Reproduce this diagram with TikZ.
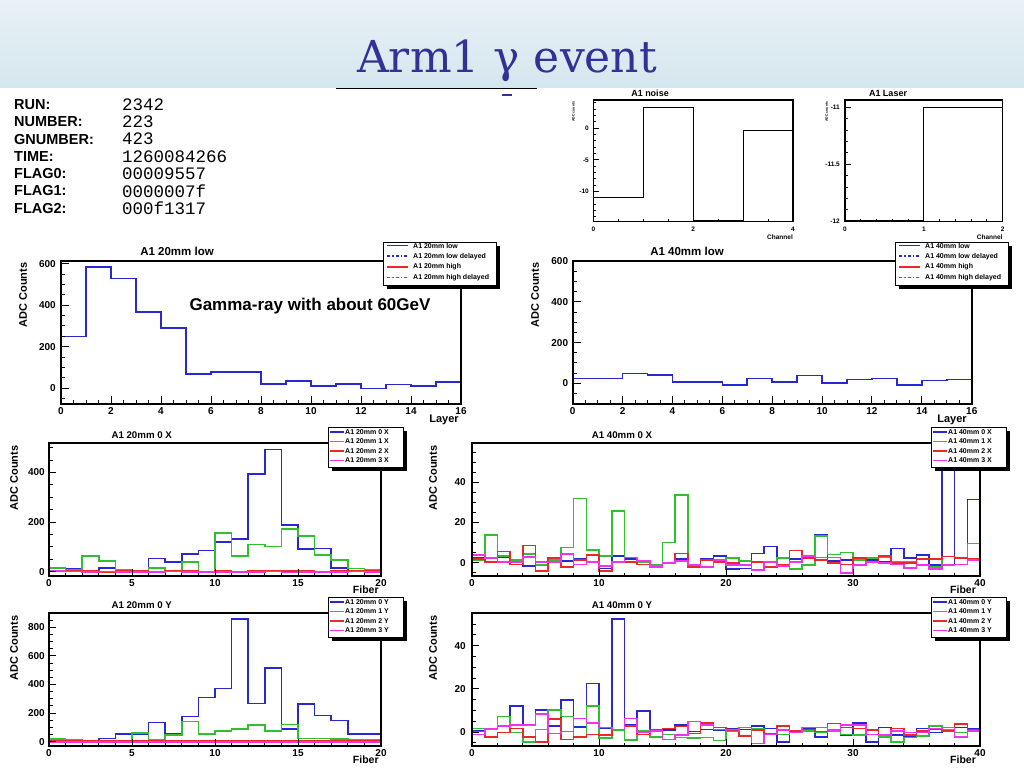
\documentclass[tikz,border=0pt]{standalone}
\usepackage{fontspec}
\setmainfont{Liberation Sans}
\newfontfamily\monofont{Liberation Mono}
\newfontfamily\titlefont{DejaVu Serif}
\definecolor{hb}{RGB}{40,40,210}
\definecolor{hg}{RGB}{50,190,50}
\definecolor{hr}{RGB}{235,40,40}
\definecolor{hm}{RGB}{240,50,240}
\definecolor{ttl}{RGB}{50,50,150}
\definecolor{bandtop}{RGB}{232,241,246}
\definecolor{bandbot}{RGB}{214,230,238}
\tikzset{
  frm/.style={draw=black,line width=1.8pt},
  tk/.style={line width=1pt},
  hst/.style={line width=1.6pt,line join=miter},
  tl/.style={font=\bfseries\fontsize{10}{12}\selectfont,inner sep=0pt},
  axt/.style={font=\bfseries\fontsize{11}{13}\selectfont,inner sep=0pt},
  ptitle/.style={font=\bfseries\fontsize{11.5}{13}\selectfont,inner sep=0pt},
  stitle/.style={font=\bfseries\fontsize{9.7}{11}\selectfont,inner sep=0pt},
  legtxt/.style={font=\bfseries\fontsize{7}{8}\selectfont,inner sep=0pt,anchor=west},
  legbox/.style={draw=black,line width=0.8pt,fill=white},
  legline/.style={line width=1.5pt},
  infolab/.style={font=\bfseries\fontsize{14.5}{16}\selectfont,inner sep=0pt,anchor=west},
  infoval/.style={font=\monofont\fontsize{17.5}{19}\selectfont,inner sep=0pt,anchor=west},
}
\def\hfirst#1,#2\relax{#1}
% histogram: style, x0, bin width, y of zero, px per unit, values
\newcommand\hist[6]{%
  \edef\hv{\hfirst#6,\relax}%
  \draw[hst,#1] (#2,{#4-(\hv)*#5}) \foreach \v [count=\i from 0] in {#6} { -- ({#2+\i*#3},{#4-(\v)*#5}) -- ({#2+(\i+1)*#3},{#4-(\v)*#5}) };%
}
% y ticks: xleft, y0, scale, list, length
\newcommand\ytk[5]{\foreach \t in {#4}{\draw[tk] (#1,{#2-(\t)*#3}) -- ++(#5,0);}}
% x ticks: ybottom, x0, scale, list, length
\newcommand\xtk[5]{\foreach \t in {#4}{\draw[tk] ({#2+(\t)*#3},#1) -- ++(0,-#5);}}
% y labels: xright, y0, scale, list, prefix
\newcommand\ylabs[5]{\foreach \t [count=\k] in {#4}{\node[tl,anchor=east] (#5y\k) at (#1,{#2-(\t)*#3}) {\t};}}
% x labels: ycenter, x0, scale, list, prefix
\newcommand\xlabs[5]{\foreach \t [count=\k] in {#4}{\node[tl] (#5x\k) at ({#2+(\t)*#3},#1) {\t};}}
% legend for low/high
\newcommand\leglow[4]{%
  \fill[black] ({#1+4},{#2+4}) rectangle ({#1+117},{#2+47});
  \draw[legbox] (#1,#2) rectangle ({#1+113},{#2+43});
  \draw[hb,legline] ({#1+4},{#2+3.5}) -- ++(21,0);
  \node[legtxt] (#4a) at ({#1+30},{#2+3.5}) {A1 #3 low};
  \draw[hb,legline,dash dot] ({#1+4},{#2+14.2}) -- ++(21,0);
  \node[legtxt] (#4b) at ({#1+30},{#2+14.2}) {A1 #3 low delayed};
  \draw[hr,legline] ({#1+4},{#2+24.8}) -- ++(21,0);
  \node[legtxt] (#4c) at ({#1+30},{#2+24.8}) {A1 #3 high};
  \draw[hr,legline,dash dot] ({#1+4},{#2+35.4}) -- ++(21,0);
  \node[legtxt] (#4d) at ({#1+30},{#2+35.4}) {A1 #3 high delayed};
}
% legend for four layers
\newcommand\legfour[5]{%
  \fill[black] ({#1+4},{#2+4}) rectangle ({#1+79},{#2+44});
  \draw[legbox] (#1,#2) rectangle ({#1+75},{#2+40});
  \foreach \hcol/\hnum [count=\k] in {hb/0,hg/1,hr/2,hm/3}{%
    \draw[\hcol,legline] ({#1+2},{#2+5+(\k-1)*9.5}) -- ++(14,0);
    \node[legtxt] (#5\k) at ({#1+17},{#2+5+(\k-1)*9.5}) {#3 \hnum\ #4};}%
}
\begin{document}
\begin{tikzpicture}[x=1pt,y=-1pt]
\useasboundingbox (0,0) rectangle (1024,768);
\fill[white] (0,0) rectangle (1024,768);
\shade[top color=bandtop,bottom color=bandbot] (0,0) rectangle (1024,87);
\node[font=\titlefont\fontsize{44}{50}\selectfont,text=ttl,anchor=base west,inner sep=0pt] (title) at (357,72) {Arm1 γ event};
\draw[line width=1pt] (336,88) -- (537,88);
\draw[ttl,line width=1.5pt] (502,95) -- (512,95);

% info block
\node[infolab] (l1) at (14,104.5) {RUN:};      \node[infoval] (v1) at (122,104.5) {2342};
\node[infolab] (l2) at (14,121.8) {NUMBER:};   \node[infoval] (v2) at (122,121.8) {223};
\node[infolab] (l3) at (14,139.1) {GNUMBER:};  \node[infoval] (v3) at (122,139.1) {423};
\node[infolab] (l4) at (14,156.4) {TIME:};     \node[infoval] (v4) at (122,156.4) {1260084266};
\node[infolab] (l5) at (14,173.7) {FLAG0:};    \node[infoval] (v5) at (122,173.7) {00009557};
\node[infolab] (l6) at (14,191.0) {FLAG1:};    \node[infoval] (v6) at (122,191.0) {0000007f};
\node[infolab] (l7) at (14,208.3) {FLAG2:};    \node[infoval] (v7) at (122,208.3) {000f1317};

% ---------- A1 noise ----------
\begin{scope}[tl/.style={font=\bfseries\fontsize{6.5}{7}\selectfont,inner sep=0pt}]
\hist{black,line width=1.2pt}{593.3}{49.93}{128.3}{6.33}{-10.9,3.26,-14.6,-0.4}
\ytk{593.3}{128.3}{6.33}{-14,-13,...,4}{3}
\ytk{593.3}{128.3}{6.33}{-10,-5,0}{6}
\xtk{221.7}{593.3}{49.93}{0,0.5,...,4}{3}
\xtk{221.7}{593.3}{49.93}{0,2,4}{6}
\draw[frm,line width=1.5pt] (593.3,100) rectangle (793,221.7);
\ylabs{589}{128.3}{6.33}{-10,-5,0}{nz}
\xlabs{229}{593.3}{49.93}{0,2,4}{nz}
\node[font=\bfseries\fontsize{9}{10}\selectfont,inner sep=0pt] (nzt) at (650,93) {A1 noise};
\node[font=\bfseries\fontsize{3.5}{4}\selectfont,inner sep=0pt,rotate=90] (nzya) at (573.3,111.7) {ADC counts};
\node[tl,anchor=east] (nzc) at (793,236.7) {Channel};
\end{scope}

% ---------- A1 Laser ----------
\begin{scope}[tl/.style={font=\bfseries\fontsize{6.5}{7}\selectfont,inner sep=0pt}]
\hist{black,line width=1.2pt}{845}{78.85}{-1146.7}{114}{-11.99,-11}
\ytk{845}{-1146.7}{114}{-12,-11.9,...,-10.95}{3}
\ytk{845}{-1146.7}{114}{-12,-11.5,-11}{6}
\xtk{221.7}{845}{78.85}{0,0.2,...,2}{3}
\xtk{221.7}{845}{78.85}{0,1,2}{6}
\draw[frm,line width=1.5pt] (845,100) rectangle (1002.7,221.7);
\ylabs{840}{-1146.7}{114}{-12,-11.5,-11}{lz}
\xlabs{229}{845}{78.85}{0,1,2}{lz}
\node[font=\bfseries\fontsize{9}{10}\selectfont,inner sep=0pt] (lzt) at (888,93) {A1 Laser};
\node[font=\bfseries\fontsize{3.5}{4}\selectfont,inner sep=0pt,rotate=90] (lzya) at (826.7,111.7) {ADC counts};
\node[tl,anchor=east] (lzc) at (1002.7,236.7) {Channel};
\end{scope}

% ---------- A1 20mm low ----------
\hist{hb}{61}{25}{388}{0.2067}{250,585,529,368,290,69,76,76,19,35,10,19,-3,16,10,29}
\ytk{61}{388}{0.2067}{-50,0,...,600}{4}
\ytk{61}{388}{0.2067}{0,200,400,600}{8}
\xtk{403.7}{61}{25}{0,0.5,...,16}{4}
\xtk{403.7}{61}{25}{0,2,...,16}{8}
\draw[frm] (61,260.7) rectangle (461,403.7);
\ylabs{56}{388}{0.2067}{0,200,400,600}{a}
\xlabs{411.3}{61}{25}{0,2,...,16}{a}
\node[ptitle] (at) at (177,251) {A1 20mm low};
\node[axt,rotate=90] (aya) at (23,295) {ADC Counts};
\node[axt] (axa) at (444,420) {Layer};
\leglow{383}{242}{20mm}{al}
\node[font=\bfseries\fontsize{17}{20}\selectfont,inner sep=0pt] (gamma) at (310,306.3) {Gamma-ray with about 60GeV};

% ---------- A1 40mm low ----------
\hist{hb}{572.7}{24.94}{383.3}{0.2035}{23,23,49,42,6,6,-8,23,6,39,1,18,23,-8,13,18}
\ytk{572.7}{383.3}{0.2035}{-100,-50,...,600}{4}
\ytk{572.7}{383.3}{0.2035}{0,200,400,600}{8}
\xtk{403.7}{572.7}{24.94}{0,0.5,...,16}{4}
\xtk{403.7}{572.7}{24.94}{0,2,...,16}{8}
\draw[frm] (572.7,260.7) rectangle (971.7,403.7);
\ylabs{568.3}{383.3}{0.2035}{0,200,400,600}{c}
\xlabs{411.3}{572.7}{24.94}{0,2,...,16}{c}
\node[ptitle] (ct) at (687,251) {A1 40mm low};
\node[axt,rotate=90] (cya) at (535,295) {ADC Counts};
\node[axt] (cxa) at (952,420) {Layer};
\leglow{895}{242}{40mm}{cl}

% ---------- A1 20mm 0 X ----------
\begin{scope}
\clip (49,443.3) rectangle (381,576);
\hist{hb}{49}{16.6}{571.7}{0.248}{4,11,2,16,8,0,54,38,71,85,121,133,394,493,188,92,94,16,4,4}
\hist{hg}{49}{16.6}{571.7}{0.248}{16,8,63,43,8,0,16,4,38,0,157,63,110,102,171,144,67,47,13,8}
\hist{hr}{49}{16.6}{571.7}{0.248}{1,4,4,-1,3,2,1,3,2,1,2,1,2,5,2,3,1,2,3,4}
\hist{hm}{49}{16.6}{571.7}{0.248}{2,1,0,1,0,-1,0,1,-1,0,0,-1,0,1,-3,0,-1,0,1,0}
\end{scope}
\ytk{49}{571.7}{0.248}{0,50,...,500}{3.5}
\ytk{49}{571.7}{0.248}{0,200,400}{7}
\xtk{576}{49}{16.6}{0,1,...,20}{3.5}
\xtk{576}{49}{16.6}{0,5,...,20}{7}
\draw[frm] (49,443.3) rectangle (381,576);
\ylabs{45}{571.7}{0.248}{0,200,400}{e}
\xlabs{583.3}{49}{16.6}{0,5,...,20}{e}
\node[stitle] (et) at (141.7,435) {A1 20mm 0 X};
\node[axt,rotate=90] (eya) at (14,478) {ADC Counts};
\node[axt,font=\bfseries\fontsize{10.5}{12}\selectfont] (exa) at (365.8,590) {Fiber};
\legfour{328}{427}{A1 20mm}{X}{el}

% ---------- A1 40mm 0 X ----------
\begin{scope}
\clip (472,443.3) rectangle (980,576);
\hist{hb}{472}{12.7}{562.7}{2.01}{2.2,2.5,2.5,1.3,-1.7,-0.8,1.3,0.8,1.7,0.5,-2.8,3.3,1.7,0.8,-1.2,0,1.7,-0.8,1.7,3.3,-3.2,-2.8,4.6,8,-1.2,1.7,3,14.1,0.8,1.3,-1.2,1.3,0.5,7.1,2.2,3.8,-1.2,100,-0.8,31.5}
\hist{hg}{472}{12.7}{562.7}{2.01}{1.3,13.8,3.3,1.3,4.3,-1.2,1.3,7.5,32,6.3,3.3,25.7,0.5,0.5,-1,10.1,33.7,-1,1.3,1.3,2.2,0.8,0.5,0.5,2.2,-3.2,-1.2,13.3,4.1,5.1,1.3,2.2,2.5,0.5,0.5,-0.8,-2,3,2.2,9.6}
\hist{hr}{472}{12.7}{562.7}{2.01}{1.8,0.5,5.5,-0.8,8.5,-4,2.2,-2,1.3,3.8,-4,0.5,0.5,-0.8,-2,0,4.6,-2,1.3,0.5,0,-1.2,0.5,-2,-0.8,6,2.2,1.3,0,-0.8,2.2,0.5,3.3,0,0,1.7,1.7,3,2.2,1.7}
\hist{hm}{472}{12.7}{562.7}{2.01}{3.8,2.2,0.5,0.5,2.7,0.5,0.5,4.3,-0.8,0.5,-1.7,0.5,2.5,0.8,-2,0,0.8,-1.2,-2,1.3,-1.2,-1.2,-3.7,0.5,-1.7,0.5,3.3,2.5,2.5,-5,-1.2,0.5,0,-0.8,-2.5,-1.2,-3.2,-1.2,-0.8,1.3}
\end{scope}
\ytk{472}{562.7}{2.01}{-5,0,...,55}{3.5}
\ytk{472}{562.7}{2.01}{0,20,40}{7}
\xtk{576}{472}{12.7}{0,2,...,40}{3.5}
\xtk{576}{472}{12.7}{0,10,...,40}{7}
\draw[frm] (472,443.3) rectangle (980,576);
\ylabs{466}{562.7}{2.01}{0,20,40}{f}
\xlabs{583.3}{472}{12.7}{0,10,...,40}{f}
\node[stitle] (ft) at (622,435) {A1 40mm 0 X};
\node[axt,rotate=90] (fya) at (433,478) {ADC Counts};
\node[axt,font=\bfseries\fontsize{10.5}{12}\selectfont] (fxa) at (963,590) {Fiber};
\legfour{931}{427}{A1 40mm}{X}{fl}

% ---------- A1 20mm 0 Y ----------
\begin{scope}
\clip (49,613.3) rectangle (381,746);
\hist{hb}{49}{16.6}{741.7}{0.143}{19,12,5,23,52,52,133,58,175,308,373,856,268,517,87,264,182,147,52,52}
\hist{hg}{49}{16.6}{741.7}{0.143}{19,12,7,0,0,62,12,47,140,52,77,87,117,75,121,23,23,19,12,12}
\hist{hr}{49}{16.6}{741.7}{0.143}{5,5,3,8,6,3,7,5,8,5,7,6,7,8,5,6,7,5,8,7}
\hist{hm}{49}{16.6}{741.7}{0.143}{-3,-2,-4,-3,-2,-4,-3,-2,-3,-4,-3,-2,-3,-4,-3,-2,-3,-4,-3,-2}
\end{scope}
\ytk{49}{741.7}{0.143}{0,50,...,850}{3.5}
\ytk{49}{741.7}{0.143}{0,200,...,800}{7}
\xtk{746}{49}{16.6}{0,1,...,20}{3.5}
\xtk{746}{49}{16.6}{0,5,...,20}{7}
\draw[frm] (49,613.3) rectangle (381,746);
\ylabs{45}{741.7}{0.143}{0,200,...,800}{g}
\xlabs{753.3}{49}{16.6}{0,5,...,20}{g}
\node[stitle] (gt) at (141.7,605) {A1 20mm 0 Y};
\node[axt,rotate=90] (gya) at (14,648) {ADC Counts};
\node[axt,font=\bfseries\fontsize{10.5}{12}\selectfont] (gxa) at (365.8,760) {Fiber};
\legfour{328}{597}{A1 20mm}{Y}{gl}

% ---------- A1 40mm 0 Y ----------
\begin{scope}
\clip (472,613.3) rectangle (980,746);
\hist{hb}{472}{12.7}{732}{2.16}{0.5,1.2,2.5,12,3.2,10.2,2.8,14.8,2.2,22.5,1.7,52.2,3.2,9.7,0.5,0.9,3.2,0.2,1.2,0.9,1.7,1.2,2.8,1.7,-4.5,0.5,1.7,-2.2,0.2,-1.4,4.3,-4.5,2,-1.4,-2.2,1.7,-0.3,1.2,2,1.7}
\hist{hg}{472}{12.7}{732}{2.16}{1.7,1.2,7.1,-0.3,-4.5,1.2,10.2,7.1,-2.6,12,-2.9,0.9,-3.7,0.5,-2.2,-1.1,-2.6,-2.9,-2.6,-4,0.9,-1.9,1.7,-1.1,-1.1,-0.3,0.5,-0.3,0.5,-1.1,-1.4,0.9,-2.2,-4.5,-2.6,-1.9,2.8,1.2,-0.3,1.2}
\hist{hr}{472}{12.7}{732}{2.16}{0.2,-2.2,-0.3,1.7,-2.2,-4.5,5.9,-3.4,-2.2,-1.1,-1.4,1.2,2.8,-1.1,0.9,1.7,2.5,-0.6,4.3,2,0.5,-1.9,0.9,-0.6,2.8,0.5,1.2,0.2,4,2,1.7,0.9,-1.4,1.7,-1.4,0.5,1.2,0.5,3.6,0.9}
\hist{hm}{472}{12.7}{732}{2.16}{-1.1,1.7,2.8,3.2,3.2,8.2,-0.6,0.2,6.3,4.3,2,1.2,6.3,-0.3,0.5,-3.4,-1.4,4.8,3.2,1.2,0.2,2,-5.3,-1.1,0.9,-0.3,2,2,0.9,3.2,3.2,-1.1,-1.4,0.5,-0.3,-0.3,1.7,2,-2.2,0.5}
\end{scope}
\ytk{472}{732}{2.16}{-5,0,...,55}{3.5}
\ytk{472}{732}{2.16}{0,20,40}{7}
\xtk{746}{472}{12.7}{0,2,...,40}{3.5}
\xtk{746}{472}{12.7}{0,10,...,40}{7}
\draw[frm] (472,613.3) rectangle (980,746);
\ylabs{466}{732}{2.16}{0,20,40}{h}
\xlabs{753.3}{472}{12.7}{0,10,...,40}{h}
\node[stitle] (ht) at (622,605) {A1 40mm 0 Y};
\node[axt,rotate=90] (hya) at (433,648) {ADC Counts};
\node[axt,font=\bfseries\fontsize{10.5}{12}\selectfont] (hxa) at (963,760) {Fiber};
\legfour{931}{597}{A1 40mm}{Y}{hl}
\end{tikzpicture}
\end{document}
